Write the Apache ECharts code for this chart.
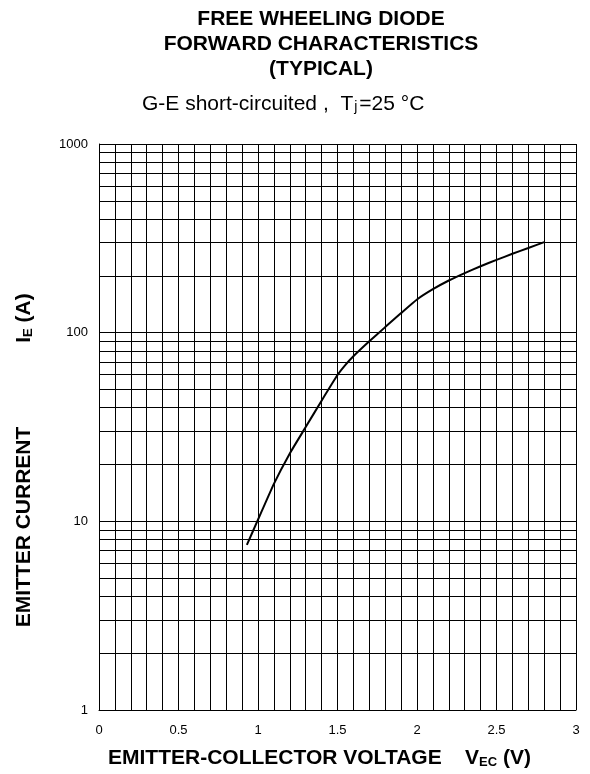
<!DOCTYPE html>
<html>
<head>
<meta charset="utf-8">
<title>Free wheeling diode forward characteristics</title>
<script src="https://cdn.jsdelivr.net/npm/echarts@6/dist/echarts.min.js"></script>
<style>
  html, body { margin: 0; padding: 0; background: #fff; }
  #chart { width: 590px; height: 774px; }
</style>
</head>
<body>
<div id="chart"></div>
<script>
// curve: V_EC (V) vs I_E (A)
var vec = [0.93, 1.0, 1.1, 1.2, 1.3, 1.4, 1.5, 1.55, 1.6, 1.7, 1.8, 1.9, 2.0, 2.1, 2.2, 2.3, 2.4, 2.5, 2.6, 2.7, 2.8];
var ie  = [7.5, 10.2, 15.8, 22.9, 31.6, 43.6, 59.6, 67.5, 75, 90, 107, 127, 150, 170, 189, 207, 225, 243, 262, 281, 302];

// x tick labels shown every 0.5 V, grid every 0.1 V
var xLabels = ['0', '0.5', '1', '1.5', '2', '2.5', '3'];
// log paper minor lines (2..9 in each decade)
var minorGrid = [2, 3, 4, 5, 6, 7, 8, 9, 20, 30, 40, 50, 60, 70, 80, 90, 200, 300, 400, 500, 600, 700, 800, 900];

var FONT = '"Liberation Sans", Arial, sans-serif';

var pts = [];
for (var i = 0; i < vec.length; i++) {
  pts.push([vec[i], ie[i]]);
}

var myChart = echarts.init(document.getElementById('chart'), null, { renderer: 'canvas' });

var option = {
  animation: false,
  backgroundColor: '#fff',
  grid: { left: 99, right: 14, top: 144, bottom: 64 },
  graphic: [
    { type: 'text', x: 321, y: 19, style: { text: 'FREE WHEELING DIODE', font: 'bold 21px ' + FONT, fill: '#000', align: 'center', verticalAlign: 'middle' } },
    { type: 'text', x: 321, y: 44, style: { text: 'FORWARD CHARACTERISTICS', font: 'bold 21px ' + FONT, fill: '#000', align: 'center', verticalAlign: 'middle' } },
    { type: 'text', x: 321, y: 69, style: { text: '(TYPICAL)', font: 'bold 21px ' + FONT, fill: '#000', align: 'center', verticalAlign: 'middle' } },
    {
      type: 'text', x: 142, y: 104,
      style: {
        text: '{n|G-E short-circuited ,  T}{s|j}{n|=25 °C}',
        align: 'left', verticalAlign: 'middle',
        rich: {
          n: { fontSize: 21, fontFamily: FONT, fill: '#000', lineHeight: 21, verticalAlign: 'bottom' },
          s: { fontSize: 14, fontFamily: FONT, fill: '#000', lineHeight: 14, verticalAlign: 'bottom', padding: [0, 2, 0, 1] }
        }
      }
    },
    {
      type: 'text', x: 108, y: 758,
      style: {
        text: '{n|EMITTER-COLLECTOR VOLTAGE    V}{s|EC}{n| (V)}',
        align: 'left', verticalAlign: 'middle',
        rich: {
          n: { fontSize: 21, fontWeight: 'bold', fontFamily: FONT, fill: '#000', lineHeight: 21, verticalAlign: 'bottom' },
          s: { fontSize: 13, fontWeight: 'bold', fontFamily: FONT, fill: '#000', lineHeight: 13, verticalAlign: 'bottom' }
        }
      }
    },
    {
      type: 'text', x: 24, y: 527, rotation: Math.PI / 2,
      style: { text: 'EMITTER CURRENT', font: 'bold 21px ' + FONT, fill: '#000', align: 'center', verticalAlign: 'middle' }
    },
    {
      type: 'text', x: 24, y: 318, rotation: Math.PI / 2,
      style: {
        text: '{n|I}{s|E}{n| (A)}',
        align: 'center', verticalAlign: 'middle',
        rich: {
          n: { fontSize: 21, fontWeight: 'bold', fontFamily: FONT, fill: '#000', lineHeight: 21, verticalAlign: 'bottom' },
          s: { fontSize: 13, fontWeight: 'bold', fontFamily: FONT, fill: '#000', lineHeight: 13, verticalAlign: 'bottom' }
        }
      }
    }
  ],
  xAxis: {
    type: 'value',
    min: 0,
    max: 3,
    interval: 0.1,
    axisLine: { show: true, onZero: false, lineStyle: { color: '#000', width: 1 } },
    axisTick: { show: false },
    axisLabel: {
      color: '#000',
      fontSize: 13,
      fontFamily: FONT,
      margin: 14,
      showMinLabel: true,
      showMaxLabel: true,
      formatter: function (v) {
        var s = String(Math.round(v * 10) / 10);
        return xLabels.indexOf(s) >= 0 ? s : '';
      }
    },
    splitLine: { show: true, lineStyle: { color: '#000', width: 1 } }
  },
  yAxis: {
    type: 'log',
    logBase: 10,
    min: 1,
    max: 1000,
    axisLine: { show: true, lineStyle: { color: '#000', width: 1 } },
    axisTick: { show: false },
    axisLabel: {
      color: '#000', fontSize: 13, fontFamily: FONT, margin: 11,
      formatter: function (v) { return String(Math.round(v)); }
    },
    splitLine: { show: true, lineStyle: { color: '#000', width: 1 } }
  },
  series: [
    {
      type: 'line',
      data: pts,
      showSymbol: false,
      smooth: 0.15,
      lineStyle: { color: '#000', width: 2 },
      markLine: {
        silent: true,
        symbol: 'none',
        label: { show: false },
        lineStyle: { color: '#000', width: 1, type: 'solid' },
        data: minorGrid.map(function (v) { return { yAxis: v }; })
      },
      z: 5
    }
  ]
};

myChart.setOption(option);
</script>
</body>
</html>
